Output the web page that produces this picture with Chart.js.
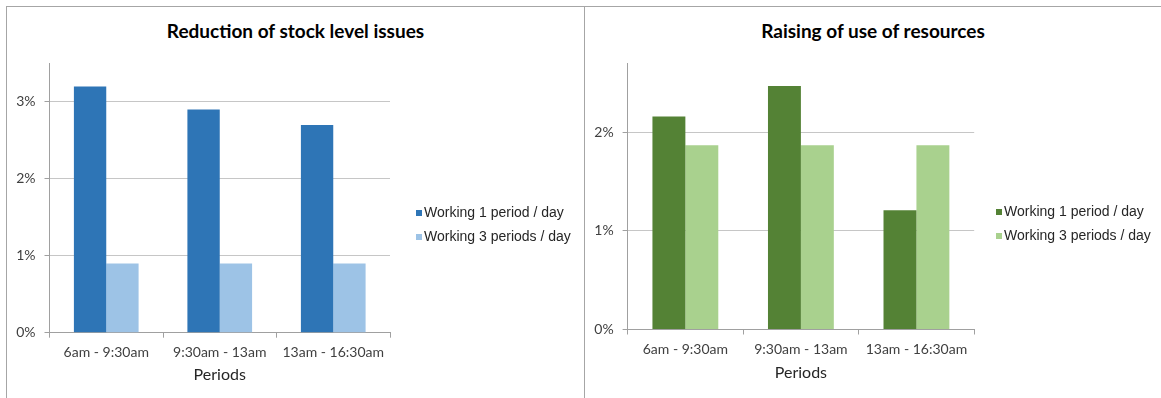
<!DOCTYPE html>
<html>
<head>
<meta charset="utf-8">
<script src="https://cdn.jsdelivr.net/npm/chart.js@4"></script>
<style>
  body { margin: 0; background: #fff; width: 1161px; height: 398px; overflow: hidden; position: relative; font-family: Lato, "Liberation Sans", sans-serif; }
  .panel { position: absolute; top: 6px; height: 392px; box-sizing: border-box; border-top: 1px solid #a6a6a6; }
  #panelStock { left: 6px; width: 579px; border-left: 1px solid #a6a6a6; border-right: 1px solid #a6a6a6; }
  #panelRes { left: 585px; width: 576px; }
  .panel canvas { position: absolute; left: 0; top: 0; }
  .titulo { position: absolute; top: 12px; width: 100%; text-align: center; font-weight: bold; font-size: 19px; line-height: 24px; color: #000; }
  .legenda { position: absolute; font-family: "Liberation Sans", Arial, sans-serif; font-size: 14px; color: #262626; }
  .legenda div { position: absolute; white-space: nowrap; height: 16px; line-height: 16px; }
  .legenda span { display: inline-block; width: 6px; height: 6px; margin-right: 2px; vertical-align: 1px; }
</style>
</head>
<body>

<div class="panel" id="panelStock">
  <div class="titulo">Reduction of stock level issues</div>
  <canvas id="graficoStock" width="577" height="391"></canvas>
  <div class="legenda" id="legendaStock" style="left:409px; top:197px;"></div>
</div>

<div class="panel" id="panelRes">
  <div class="titulo">Raising of use of resources</div>
  <canvas id="graficoRes" width="576" height="391"></canvas>
  <div class="legenda" id="legendaRes" style="left:411px; top:196px;"></div>
</div>

<script>
// ================= DADOS =================
const periodos = ["6am - 9:30am", "9:30am - 13am", "13am - 16:30am"];
const series = ["Working 1 period / day", "Working 3 periods / day"];

// Reduction of stock level issues (%)
const stock1Periodo = [3.2, 2.9, 2.7];
const stock3Periodos = [0.9, 0.9, 0.9];

// Raising of use of resources (%)
const recursos1Periodo = [2.16, 2.47, 1.21];
const recursos3Periodos = [1.87, 1.87, 1.87];

// eixo Y: maximo de cada grafico, passo de 1%
const maxStock = 3.5;
const maxRecursos = 2.7;
const passoY = 1;

const coresStock = ["#2e75b6", "#9dc3e6"];
const coresRecursos = ["#548235", "#a9d18e"];

const cinzaEixo = "#a0a0a0";
const cinzaGrade = "#c6c6c6";
const fonteEixo = "Lato, 'Liberation Sans', sans-serif";

function montarLegenda(id, cores) {
  const el = document.getElementById(id);
  series.forEach((nome, i) => {
    el.innerHTML += `<div style="top:${i * 24}px"><span style="background:${cores[i]}"></span>${nome}</div>`;
  });
}

function criarGrafico(id, dados1, dados2, cores, maxY, area) {
  return new Chart(document.getElementById(id), {
    type: "bar",
    data: {
      labels: periodos,
      datasets: [
        { label: series[0], data: dados1, backgroundColor: cores[0] },
        { label: series[1], data: dados2, backgroundColor: cores[1] }
      ]
    },
    options: {
      responsive: false,
      animation: false,
      layout: { padding: { top: area.topo, right: area.direita, left: 0, bottom: 0 } },
      datasets: { bar: { categoryPercentage: 0.57, barPercentage: 1 } },
      plugins: {
        legend: { display: false },
        tooltip: { enabled: false },
        title: { display: false }
      },
      scales: {
        x: {
          grid: { offset: true, drawOnChartArea: false, tickLength: 5, color: cinzaEixo },
          border: { color: cinzaEixo },
          ticks: { font: { family: fonteEixo, size: 14 }, color: "#404040", padding: area.padX, maxRotation: 0 },
          title: {
            display: true,
            text: "Periods",
            font: { family: fonteEixo, size: 16 },
            color: "#262626",
            padding: { top: 0, bottom: area.padTitulo }
          },
          afterFit: s => { s.height = area.alturaX; }
        },
        y: {
          min: 0,
          max: maxY,
          ticks: {
            stepSize: passoY,
            includeBounds: false,
            callback: v => v + "%",
            font: { family: fonteEixo, size: 14 },
            color: "#404040",
            padding: 9
          },
          grid: { color: cinzaGrade, tickColor: cinzaEixo, tickLength: 5 },
          border: { color: cinzaEixo },
          afterFit: s => { s.width = area.larguraY; }
        }
      }
    }
  });
}

// ================= GRAFICO ESTOQUE =================
criarGrafico("graficoStock", stock1Periodo, stock3Periodos, coresStock, maxStock,
  { topo: 56.3, direita: 194, alturaX: 65.3, padTitulo: 13.4, larguraY: 42.5, padX: 6 });
montarLegenda("legendaStock", coresStock);

// ================= GRAFICO RECURSOS =================
criarGrafico("graficoRes", recursos1Periodo, recursos3Periodos, coresRecursos, maxRecursos,
  { topo: 56.3, direita: 186.8, alturaX: 68.5, padTitulo: 15.4, larguraY: 42.6, padX: 7 });
montarLegenda("legendaRes", coresRecursos);
</script>
</body>
</html>
